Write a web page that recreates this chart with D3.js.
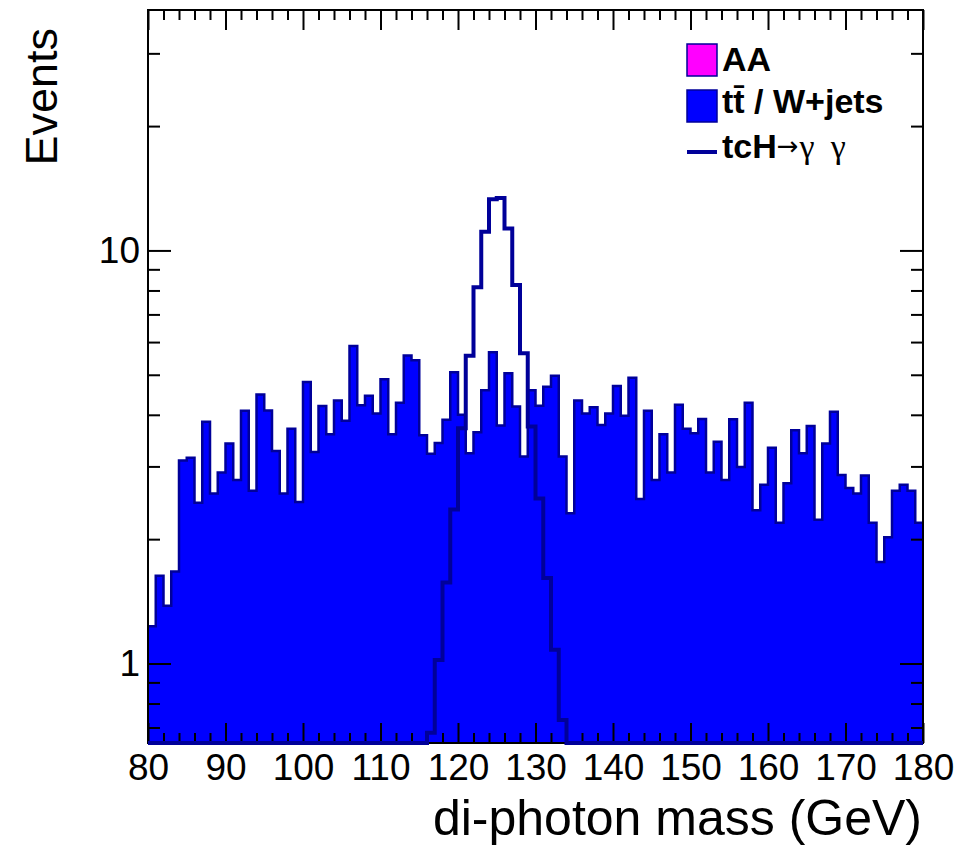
<!DOCTYPE html>
<html>
<head>
<meta charset="utf-8">
<script src="https://cdn.jsdelivr.net/npm/d3@7"></script>
<style>
  html, body { margin: 0; padding: 0; background: #fff; }
  svg { display: block; font-family: "Liberation Sans", Arial, sans-serif; }
</style>
</head>
<body>
<svg id="chart"></svg>
<script>
// di-photon mass, 1 GeV bins from 80 to 180
const binLow = 80;
const binHigh = 180;

// tt / W+jets background, events per bin
const bkgValues = [
  1.23, 1.63, 1.38, 1.67, 3.10, 3.15, 2.45, 3.85, 2.58, 2.90,
  3.41, 2.78, 4.09, 2.62, 4.48, 4.10, 3.27, 2.58, 3.70, 2.46,
  4.80, 3.25, 4.20, 3.59, 4.33, 3.87, 5.87, 4.22, 4.45, 4.03,
  4.88, 3.59, 4.28, 5.57, 5.42, 3.57, 3.22, 3.42, 3.89, 5.07,
  4.00, 3.23, 3.63, 4.59, 5.67, 3.77, 5.04, 4.19, 3.17, 4.59,
  4.21, 4.68, 4.97, 3.17, 2.31, 4.33, 4.03, 4.17, 3.78, 4.03,
  4.70, 3.98, 4.92, 2.50, 4.09, 2.78, 3.59, 2.90, 4.23, 3.70,
  3.61, 3.91, 2.90, 3.44, 2.78, 3.90, 2.99, 4.28, 2.35, 2.71,
  3.33, 2.19, 2.73, 3.67, 3.23, 3.76, 2.23, 3.41, 4.07, 2.86,
  2.66, 2.58, 2.85, 2.19, 1.76, 2.02, 2.62, 2.71, 2.62, 2.19
];

// tcH -> gamma gamma signal, events per bin
const sigValues = [
  0, 0, 0, 0, 0, 0, 0, 0, 0, 0,
  0, 0, 0, 0, 0, 0, 0, 0, 0, 0,
  0, 0, 0, 0, 0, 0, 0, 0, 0, 0,
  0, 0, 0, 0, 0, 0, 0.68, 1.02, 1.57, 2.36,
  3.71, 5.56, 8.15, 11.1, 13.3, 13.4, 11.3, 8.25, 5.64, 3.75,
  2.51, 1.61, 1.08, 0.73, 0, 0, 0, 0, 0, 0,
  0, 0, 0, 0, 0, 0, 0, 0, 0, 0,
  0, 0, 0, 0, 0, 0, 0, 0, 0, 0,
  0, 0, 0, 0, 0, 0, 0, 0, 0, 0,
  0, 0, 0, 0, 0, 0, 0, 0, 0, 0
];

const xMajorTicks = [80, 90, 100, 110, 120, 130, 140, 150, 160, 170, 180];
const xMinorTicks = [82, 84, 86, 88, 92, 94, 96, 98, 102, 104, 106, 108, 112, 114, 116, 118,
  122, 124, 126, 128, 132, 134, 136, 138, 142, 144, 146, 148, 152, 154, 156, 158,
  162, 164, 166, 168, 172, 174, 176, 178];
const yMajorTicks = [1, 10];
const yMinorTicks = [0.7, 0.8, 0.9, 2, 3, 4, 5, 6, 7, 8, 9, 20, 30];

const legendItems = ['AA', 'tt̄ / W+jets', 'tcH'];

const W = 964, H = 845;
const frame = { left: 148, right: 923, top: 10, bottom: 743 };
const yMin = 0.642, yMax = 38.2;

const svg = d3.select('#chart')
  .attr('width', W)
  .attr('height', H);

const x = d3.scaleLinear()
  .domain([binLow, binHigh])
  .range([frame.left, frame.right]);
const y = d3.scaleLog()
  .domain([yMin, yMax])
  .range([frame.bottom, frame.top]);

const edges = d3.range(binLow, binHigh);
const clampY = v => y(Math.max(v, yMin));
const toSteps = vals => edges.map((e, i) => [e, vals[i]]).concat([[binHigh, vals[vals.length - 1]]]);

const stepArea = d3.area()
  .x(d => x(d[0]))
  .y0(frame.bottom)
  .y1(d => clampY(d[1]))
  .curve(d3.curveStepAfter);
const stepLine = d3.line()
  .x(d => x(d[0]))
  .y(d => clampY(d[1]))
  .curve(d3.curveStepAfter);

// background histogram
svg.append('path')
  .datum(toSteps(bkgValues))
  .attr('d', stepArea)
  .attr('fill', '#0000ff');
svg.append('path')
  .datum(toSteps(bkgValues))
  .attr('d', stepLine)
  .attr('fill', 'none')
  .attr('stroke', '#000099')
  .attr('stroke-width', 2.5);

// axes, ticks pointing inward on all four sides
function styleAxis(g) {
  g.select('.domain').remove();
  g.selectAll('.tick line').attr('stroke', '#000').attr('stroke-width', 2);
  g.selectAll('.tick text')
    .attr('fill', '#000')
    .style('font-family', '"Liberation Sans", Arial, sans-serif')
    .style('font-size', '37px');
}

svg.append('g')
  .attr('transform', `translate(0,${frame.bottom})`)
  .call(d3.axisBottom(x).tickValues(xMajorTicks).tickSizeInner(-20).tickSizeOuter(0).tickPadding(11).tickFormat(d3.format('d')))
  .call(styleAxis);
svg.append('g')
  .attr('transform', `translate(0,${frame.bottom})`)
  .call(d3.axisBottom(x).tickValues(xMinorTicks).tickSizeInner(-10).tickSizeOuter(0).tickFormat(''))
  .call(styleAxis);
svg.append('g')
  .attr('transform', `translate(0,${frame.top})`)
  .call(d3.axisTop(x).tickValues(xMajorTicks).tickSizeInner(-20).tickSizeOuter(0).tickFormat(''))
  .call(styleAxis);
svg.append('g')
  .attr('transform', `translate(0,${frame.top})`)
  .call(d3.axisTop(x).tickValues(xMinorTicks).tickSizeInner(-10).tickSizeOuter(0).tickFormat(''))
  .call(styleAxis);

svg.append('g')
  .attr('transform', `translate(${frame.left},0)`)
  .call(d3.axisLeft(y).tickValues(yMajorTicks).tickSizeInner(-23).tickSizeOuter(0).tickPadding(8).tickFormat(d3.format('d')))
  .call(styleAxis);
svg.append('g')
  .attr('transform', `translate(${frame.left},0)`)
  .call(d3.axisLeft(y).tickValues(yMinorTicks).tickSizeInner(-12).tickSizeOuter(0).tickFormat(''))
  .call(styleAxis);
svg.append('g')
  .attr('transform', `translate(${frame.right},0)`)
  .call(d3.axisRight(y).tickValues(yMajorTicks).tickSizeInner(-23).tickSizeOuter(0).tickFormat(''))
  .call(styleAxis);
svg.append('g')
  .attr('transform', `translate(${frame.right},0)`)
  .call(d3.axisRight(y).tickValues(yMinorTicks).tickSizeInner(-12).tickSizeOuter(0).tickFormat(''))
  .call(styleAxis);

svg.append('rect')
  .attr('x', frame.left)
  .attr('y', frame.top)
  .attr('width', frame.right - frame.left)
  .attr('height', frame.bottom - frame.top)
  .attr('fill', 'none')
  .attr('stroke', '#000')
  .attr('stroke-width', 2);

// signal histogram drawn last, zero bins sit on the frame bottom
svg.append('path')
  .datum(toSteps(sigValues))
  .attr('d', stepLine)
  .attr('fill', 'none')
  .attr('stroke', '#000099')
  .attr('stroke-width', 4);

// axis titles
svg.append('text')
  .attr('x', frame.right - 1)
  .attr('y', 835)
  .attr('text-anchor', 'end')
  .style('font-size', '50px')
  .text('di-photon mass (GeV)');
svg.append('text')
  .attr('transform', 'translate(57,28) rotate(-90)')
  .attr('text-anchor', 'end')
  .style('font-size', '45px')
  .text('Events');

// legend
const legend = svg.append('g').attr('transform', 'translate(687,0)');
legend.append('rect')
  .attr('x', 0).attr('y', 44).attr('width', 30).attr('height', 32)
  .attr('fill', '#ff00ff').attr('stroke', '#000099').attr('stroke-width', 1.5);
legend.append('rect')
  .attr('x', 0).attr('y', 90).attr('width', 30).attr('height', 32)
  .attr('fill', '#0000ff').attr('stroke', '#000099').attr('stroke-width', 1.5);
legend.append('line')
  .attr('x1', 0).attr('x2', 30).attr('y1', 152).attr('y2', 152)
  .attr('stroke', '#000099').attr('stroke-width', 4);

const legendY = [71, 113, 158];
legendItems.forEach((t, i) => {
  const txt = legend.append('text')
    .attr('x', 35)
    .attr('y', legendY[i])
    .style('font-size', '34px')
    .style('font-weight', 'bold')
    .text(t);
  if (i === 2) {
    txt.append('tspan')
      .style('font-weight', 'normal')
      .style('font-family', '"DejaVu Sans", sans-serif')
      .style('font-size', '26px')
      .attr('dy', -3)
      .text('→');
    txt.append('tspan')
      .style('font-weight', 'normal')
      .style('font-family', '"Liberation Serif", "DejaVu Serif", serif')
      .style('font-size', '34px')
      .attr('dy', 3)
      .attr('dx', 1)
      .text('γ');
    txt.append('tspan')
      .style('font-weight', 'normal')
      .style('font-family', '"Liberation Serif", "DejaVu Serif", serif')
      .style('font-size', '34px')
      .attr('dx', 16)
      .text('γ');
  }
});
</script>
</body>
</html>
